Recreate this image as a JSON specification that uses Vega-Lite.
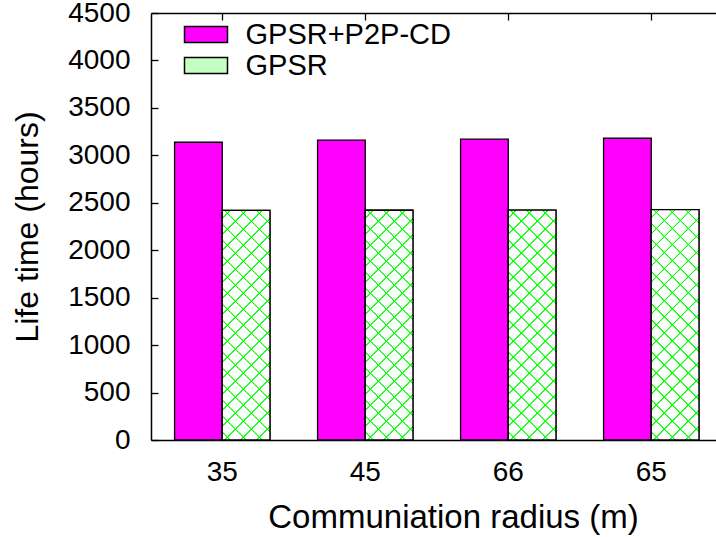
{
  "$schema": "https://vega.github.io/schema/vega-lite/v6.json",
  "width": 565,
  "height": 427,
  "autosize": {"type": "none"},
  "padding": {"left": 151, "top": 13, "right": 0, "bottom": 97},
  "background": "white",
  "config": {
    "view": {"stroke": null},
    "font": "Liberation Sans",
    "axis": {
      "grid": false,
      "domainColor": "black",
      "domainWidth": 1.5,
      "tickColor": "black",
      "tickWidth": 1.3,
      "labelColor": "black",
      "titleColor": "black",
      "labelFont": "Liberation Sans",
      "titleFont": "Liberation Sans",
      "titleFontWeight": "normal"
    }
  },
  "data": {
    "values": [
      {"radius": "35", "series": "GPSR+P2P-CD", "hours": 3138},
      {"radius": "35", "series": "GPSR", "hours": 2420},
      {"radius": "45", "series": "GPSR+P2P-CD", "hours": 3160},
      {"radius": "45", "series": "GPSR", "hours": 2421},
      {"radius": "66", "series": "GPSR+P2P-CD", "hours": 3170},
      {"radius": "66", "series": "GPSR", "hours": 2422},
      {"radius": "65", "series": "GPSR+P2P-CD", "hours": 3180},
      {"radius": "65", "series": "GPSR", "hours": 2428}
    ]
  },
  "layer": [
    {
      "mark": {"type": "bar", "stroke": "black", "strokeWidth": 1.3},
      "encoding": {
        "x": {
          "field": "radius",
          "type": "nominal",
          "scale": {"domain": ["35", "45", "66", "65"], "paddingInner": 0.333, "paddingOuter": 0.142, "align": 0.58, "round": false},
          "axis": {
            "orient": "bottom",
            "title": "Communiation radius (m)",
            "ticks": false,
            "labelAngle": 0,
            "labelFontSize": 28,
            "labelPadding": 40,
            "labelBaseline": "alphabetic",
            "titleFontSize": 33,
            "titleX": 302,
            "titleY": 87,
            "titleAlign": "center",
            "titleBaseline": "alphabetic"
          }
        },
        "xOffset": {
          "field": "series",
          "type": "nominal",
          "scale": {"domain": ["GPSR+P2P-CD", "GPSR"], "paddingInner": 0, "paddingOuter": 0}
        },
        "y": {
          "field": "hours",
          "type": "quantitative",
          "scale": {"domain": [0, 4500], "nice": false},
          "axis": {
            "orient": "left",
            "title": "Life time (hours)",
            "values": [0, 500, 1000, 1500, 2000, 2500, 3000, 3500, 4000, 4500],
            "format": "d",
            "tickSize": -7,
            "labelPadding": 28,
            "labelFontSize": 28,
            "labelFlush": false,
            "labelOverlap": false,
            "titleFontSize": 32,
            "titleX": -114,
            "titleY": 213.5,
            "titleAngle": 270,
            "titleAlign": "center",
            "titleBaseline": "alphabetic"
          }
        },
        "fill": {
          "field": "series",
          "type": "nominal",
          "scale": {"domain": ["GPSR+P2P-CD", "GPSR"], "range": ["#ff00ff", "#c4ffc4"]},
          "legend": {
            "orient": "none",
            "legendX": 40.5,
            "legendY": 7,
            "title": null,
            "padding": 0,
            "symbolType": "M-2,-0.744H2V0.744H-2Z",
            "symbolSize": 462.25,
            "symbolStrokeColor": "black",
            "symbolStrokeWidth": 1.5,
            "labelFont": "Liberation Sans",
            "labelFontSize": 29,
            "labelColor": "black",
            "labelOffset": 25,
            "labelLimit": 0,
            "rowPadding": 1,
            "encode": {
              "symbols": {
                "update": {
                  "stroke": {"value": "black"},
                  "strokeWidth": {"value": 1.5}
                }
              }
            }
          }
        }
      }
    },
    {
      "transform": [{"filter": "datum.series === 'GPSR'"}],
      "mark": {
        "type": "bar",
        "fill": {
          "gradient": "linear",
          "x1": 0, "y1": 0, "x2": 0.2404, "y2": 1.158,
          "stops": [
            {"offset": 0, "color": "#ffffff"},
            {"offset": 0.0249, "color": "#ffffff"}, {"offset": 0.0274, "color": "#00ff00"}, {"offset": 0.0303, "color": "#00ff00"}, {"offset": 0.0328, "color": "#ffffff"},
            {"offset": 0.0825, "color": "#ffffff"}, {"offset": 0.0850, "color": "#00ff00"}, {"offset": 0.0879, "color": "#00ff00"}, {"offset": 0.0905, "color": "#ffffff"},
            {"offset": 0.1402, "color": "#ffffff"}, {"offset": 0.1427, "color": "#00ff00"}, {"offset": 0.1456, "color": "#00ff00"}, {"offset": 0.1481, "color": "#ffffff"},
            {"offset": 0.1978, "color": "#ffffff"}, {"offset": 0.2004, "color": "#00ff00"}, {"offset": 0.2032, "color": "#00ff00"}, {"offset": 0.2058, "color": "#ffffff"},
            {"offset": 0.2555, "color": "#ffffff"}, {"offset": 0.2580, "color": "#00ff00"}, {"offset": 0.2609, "color": "#00ff00"}, {"offset": 0.2634, "color": "#ffffff"},
            {"offset": 0.3132, "color": "#ffffff"}, {"offset": 0.3157, "color": "#00ff00"}, {"offset": 0.3186, "color": "#00ff00"}, {"offset": 0.3211, "color": "#ffffff"},
            {"offset": 0.3708, "color": "#ffffff"}, {"offset": 0.3733, "color": "#00ff00"}, {"offset": 0.3762, "color": "#00ff00"}, {"offset": 0.3787, "color": "#ffffff"},
            {"offset": 0.4285, "color": "#ffffff"}, {"offset": 0.4310, "color": "#00ff00"}, {"offset": 0.4339, "color": "#00ff00"}, {"offset": 0.4364, "color": "#ffffff"},
            {"offset": 0.4861, "color": "#ffffff"}, {"offset": 0.4886, "color": "#00ff00"}, {"offset": 0.4915, "color": "#00ff00"}, {"offset": 0.4941, "color": "#ffffff"},
            {"offset": 0.5438, "color": "#ffffff"}, {"offset": 0.5463, "color": "#00ff00"}, {"offset": 0.5492, "color": "#00ff00"}, {"offset": 0.5517, "color": "#ffffff"},
            {"offset": 0.6014, "color": "#ffffff"}, {"offset": 0.6040, "color": "#00ff00"}, {"offset": 0.6068, "color": "#00ff00"}, {"offset": 0.6094, "color": "#ffffff"},
            {"offset": 0.6591, "color": "#ffffff"}, {"offset": 0.6616, "color": "#00ff00"}, {"offset": 0.6645, "color": "#00ff00"}, {"offset": 0.6670, "color": "#ffffff"},
            {"offset": 0.7168, "color": "#ffffff"}, {"offset": 0.7193, "color": "#00ff00"}, {"offset": 0.7222, "color": "#00ff00"}, {"offset": 0.7247, "color": "#ffffff"},
            {"offset": 0.7744, "color": "#ffffff"}, {"offset": 0.7769, "color": "#00ff00"}, {"offset": 0.7798, "color": "#00ff00"}, {"offset": 0.7823, "color": "#ffffff"},
            {"offset": 0.8321, "color": "#ffffff"}, {"offset": 0.8346, "color": "#00ff00"}, {"offset": 0.8375, "color": "#00ff00"}, {"offset": 0.8400, "color": "#ffffff"},
            {"offset": 0.8897, "color": "#ffffff"}, {"offset": 0.8922, "color": "#00ff00"}, {"offset": 0.8951, "color": "#00ff00"}, {"offset": 0.8977, "color": "#ffffff"},
            {"offset": 0.9474, "color": "#ffffff"}, {"offset": 0.9499, "color": "#00ff00"}, {"offset": 0.9528, "color": "#00ff00"}, {"offset": 0.9553, "color": "#ffffff"},
            {"offset": 1, "color": "#ffffff"}
          ]
        }
      },
      "encoding": {
        "x": {
          "field": "radius",
          "type": "nominal",
          "axis": {"orient": "top", "title": null, "labels": false, "ticks": true, "tickSize": -7}
        },
        "xOffset": {"field": "series", "type": "nominal"},
        "y": {"field": "hours", "type": "quantitative", "axis": null}
      }
    },
    {
      "transform": [{"filter": "datum.series === 'GPSR'"}],
      "mark": {
        "type": "bar",
        "stroke": "black",
        "strokeWidth": 1.3,
        "fill": {
          "gradient": "linear",
          "x1": 0, "y1": 1, "x2": 0.2404, "y2": -0.158,
          "stops": [
            {"offset": 0.0249, "color": "rgba(0,255,0,0)"}, {"offset": 0.0274, "color": "#00ff00"}, {"offset": 0.0303, "color": "#00ff00"}, {"offset": 0.0328, "color": "rgba(0,255,0,0)"},
            {"offset": 0.0825, "color": "rgba(0,255,0,0)"}, {"offset": 0.0850, "color": "#00ff00"}, {"offset": 0.0879, "color": "#00ff00"}, {"offset": 0.0905, "color": "rgba(0,255,0,0)"},
            {"offset": 0.1402, "color": "rgba(0,255,0,0)"}, {"offset": 0.1427, "color": "#00ff00"}, {"offset": 0.1456, "color": "#00ff00"}, {"offset": 0.1481, "color": "rgba(0,255,0,0)"},
            {"offset": 0.1978, "color": "rgba(0,255,0,0)"}, {"offset": 0.2004, "color": "#00ff00"}, {"offset": 0.2032, "color": "#00ff00"}, {"offset": 0.2058, "color": "rgba(0,255,0,0)"},
            {"offset": 0.2555, "color": "rgba(0,255,0,0)"}, {"offset": 0.2580, "color": "#00ff00"}, {"offset": 0.2609, "color": "#00ff00"}, {"offset": 0.2634, "color": "rgba(0,255,0,0)"},
            {"offset": 0.3132, "color": "rgba(0,255,0,0)"}, {"offset": 0.3157, "color": "#00ff00"}, {"offset": 0.3186, "color": "#00ff00"}, {"offset": 0.3211, "color": "rgba(0,255,0,0)"},
            {"offset": 0.3708, "color": "rgba(0,255,0,0)"}, {"offset": 0.3733, "color": "#00ff00"}, {"offset": 0.3762, "color": "#00ff00"}, {"offset": 0.3787, "color": "rgba(0,255,0,0)"},
            {"offset": 0.4285, "color": "rgba(0,255,0,0)"}, {"offset": 0.4310, "color": "#00ff00"}, {"offset": 0.4339, "color": "#00ff00"}, {"offset": 0.4364, "color": "rgba(0,255,0,0)"},
            {"offset": 0.4861, "color": "rgba(0,255,0,0)"}, {"offset": 0.4886, "color": "#00ff00"}, {"offset": 0.4915, "color": "#00ff00"}, {"offset": 0.4941, "color": "rgba(0,255,0,0)"},
            {"offset": 0.5438, "color": "rgba(0,255,0,0)"}, {"offset": 0.5463, "color": "#00ff00"}, {"offset": 0.5492, "color": "#00ff00"}, {"offset": 0.5517, "color": "rgba(0,255,0,0)"},
            {"offset": 0.6014, "color": "rgba(0,255,0,0)"}, {"offset": 0.6040, "color": "#00ff00"}, {"offset": 0.6068, "color": "#00ff00"}, {"offset": 0.6094, "color": "rgba(0,255,0,0)"},
            {"offset": 0.6591, "color": "rgba(0,255,0,0)"}, {"offset": 0.6616, "color": "#00ff00"}, {"offset": 0.6645, "color": "#00ff00"}, {"offset": 0.6670, "color": "rgba(0,255,0,0)"},
            {"offset": 0.7168, "color": "rgba(0,255,0,0)"}, {"offset": 0.7193, "color": "#00ff00"}, {"offset": 0.7222, "color": "#00ff00"}, {"offset": 0.7247, "color": "rgba(0,255,0,0)"},
            {"offset": 0.7744, "color": "rgba(0,255,0,0)"}, {"offset": 0.7769, "color": "#00ff00"}, {"offset": 0.7798, "color": "#00ff00"}, {"offset": 0.7823, "color": "rgba(0,255,0,0)"},
            {"offset": 0.8321, "color": "rgba(0,255,0,0)"}, {"offset": 0.8346, "color": "#00ff00"}, {"offset": 0.8375, "color": "#00ff00"}, {"offset": 0.8400, "color": "rgba(0,255,0,0)"},
            {"offset": 0.8897, "color": "rgba(0,255,0,0)"}, {"offset": 0.8922, "color": "#00ff00"}, {"offset": 0.8951, "color": "#00ff00"}, {"offset": 0.8977, "color": "rgba(0,255,0,0)"},
            {"offset": 0.9474, "color": "rgba(0,255,0,0)"}, {"offset": 0.9499, "color": "#00ff00"}, {"offset": 0.9528, "color": "#00ff00"}, {"offset": 0.9553, "color": "rgba(0,255,0,0)"}
          ]
        }
      },
      "encoding": {
        "x": {"field": "radius", "type": "nominal", "axis": null},
        "xOffset": {"field": "series", "type": "nominal"},
        "y": {"field": "hours", "type": "quantitative", "axis": null}
      }
    }
  ],
  "resolve": {"axis": {"x": "independent", "y": "independent"}}
}
